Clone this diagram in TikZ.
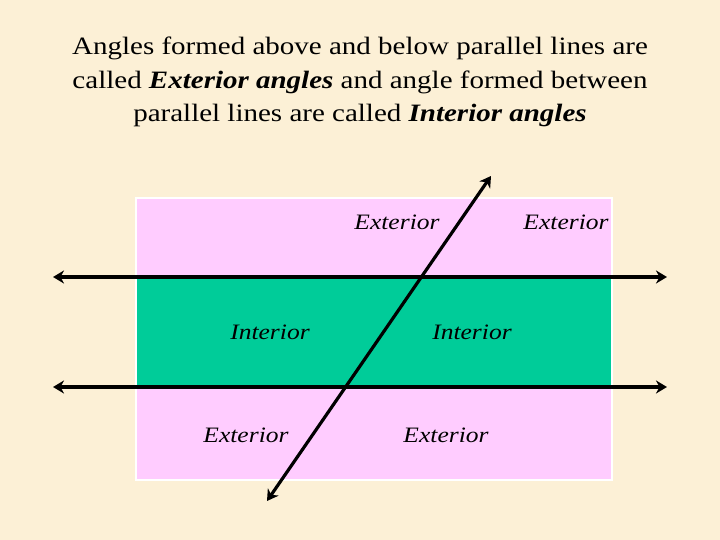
\documentclass[tikz,border=0pt]{standalone}
\usepackage{fontspec}
\setmainfont{Liberation Serif}
\newfontfamily\widefont[FakeStretch=1.16]{Liberation Serif}
\usetikzlibrary{arrows.meta}
\definecolor{paper}{RGB}{252,240,214}
\definecolor{outside}{RGB}{255,204,255}
\definecolor{inside}{RGB}{0,204,153}
\tikzset{
  lbl/.style={font=\widefont\fontsize{22}{26}\selectfont\itshape,inner sep=0pt},
  ray/.style={line width=3.2pt,{Stealth[length=11pt,width=13pt,inset=3.5pt]}-{Stealth[length=11pt,width=13pt,inset=3.5pt]}}
}
\begin{document}
\begin{tikzpicture}[x=1pt,y=1pt]
\fill[paper](0,0)rectangle(720,540);
\useasboundingbox(0,0)rectangle(720,540);
% plane and band between the parallels
\filldraw[fill=outside,draw=white,line width=2pt](136,60)rectangle(612,342);
\fill[inside](137,153)rectangle(611,263);
\node[inner sep=0pt,align=center,font=\widefont\fontsize{25}{33.5}\selectfont](title)at(360,458){Angles formed above and below parallel lines are\\called \textbf{\textit{Exterior angles}} and angle formed between\\parallel lines are called \textbf{\textit{Interior angles}}};
% end points of the lines
\coordinate(l1)at(53,263);
\coordinate(r1)at(667,263);
\coordinate(l2)at(53,153);
\coordinate(r2)at(667,153);
\coordinate(tb)at(267,39);
\coordinate(tt)at(491,364);
\draw[ray](l1)--(r1);
\draw[ray](l2)--(r2);
\draw[ray](tb)--(tt);
% labels
\node[lbl](ext1)at(397,318){Exterior};
\node[lbl](ext2)at(566,318){Exterior};
\node[lbl](int1)at(270,208){Interior};
\node[lbl](int2)at(472,208){Interior};
\node[lbl](ext3)at(246,105){Exterior};
\node[lbl](ext4)at(446,105){Exterior};
\end{tikzpicture}
\end{document}
